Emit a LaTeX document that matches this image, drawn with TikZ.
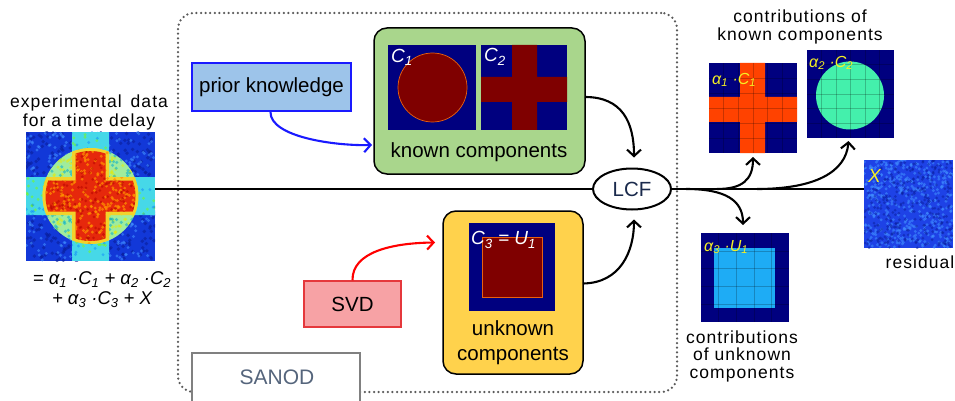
\documentclass[tikz,border=0pt]{standalone}
\usepackage{fontspec}
\setmainfont{Liberation Sans}
\usetikzlibrary{arrows.meta,calc,shapes.geometric}
\definecolor{navyc}{HTML}{00007F}
\definecolor{darkredc}{HTML}{7F0000}
\definecolor{expblue}{HTML}{1238D8}
\definecolor{cyanc}{HTML}{46D8E8}
\definecolor{circc}{HTML}{A0EC9C}
\definecolor{yelc}{HTML}{F2D22A}
\definecolor{redc}{HTML}{E6280C}
\definecolor{greenbox}{HTML}{A9D68C}
\definecolor{goldbox}{HTML}{FFD24C}
\definecolor{priorfill}{HTML}{9DC4EA}
\definecolor{priordraw}{HTML}{1A1AFF}
\definecolor{svdfill}{HTML}{F7A2A5}
\definecolor{svddraw}{HTML}{E5383C}
\definecolor{sanodc}{HTML}{55657C}
\definecolor{crossc}{HTML}{FF4200}
\definecolor{aquac}{HTML}{44F0AC}
\definecolor{lbluec}{HTML}{1EACF5}
\definecolor{resblue}{HTML}{1E42E6}
\definecolor{labyel}{HTML}{F5F025}
\definecolor{lcftext}{HTML}{1A2A4C}
\definecolor{dotgray}{HTML}{5A5A5A}
\definecolor{orangeedge}{HTML}{E86010}
\definecolor{speckdark}{HTML}{0A1E9A}
\definecolor{specklight}{HTML}{3F8CFF}

\newcommand\mynoise[8]{%
  \foreach \k in {1,...,#1}{%
    \pgfmathsetmacro\px{#2+#4*rnd}%
    \pgfmathsetmacro\py{#3+#5*rnd}%
    \fill[#6,opacity=#8] (\px,\py) circle (#7);}}

\begin{document}
\begin{tikzpicture}[x=1pt,y=-1pt,
  btxt/.style={font=\fontsize{20.5}{24.5}\selectfont, align=center, inner sep=0pt},
  ctxt/.style={font=\fontsize{17.5}{17.5}\selectfont\addfontfeatures{LetterSpace=6}, align=center, inner sep=0pt},
  img/.style={inner sep=0pt, outer sep=0pt, draw=none},
  arr/.style={line width=2.1pt, -{Straight Barb[length=6.5pt,width=14pt]}},
  gridl/.style={black, opacity=0.22, line width=0.6pt},
  ilab/.style={font=\fontsize{19}{19}\selectfont\itshape, inner sep=0pt, anchor=west, text=white},
  ylab/.style={font=\fontsize{16}{16}\selectfont\itshape, inner sep=0pt, anchor=west, text=labyel},
  mainline/.style={line width=1.8pt},
]
\pgfmathsetseed{3}
\useasboundingbox (0,0) rectangle (955,401);
\fill[white] (0,0) rectangle (955,401);

% SANOD frame
\node[img, draw=dotgray, line width=2.5pt, dash pattern=on 0pt off 4.6pt, line cap=round,
      rounded corners=16pt, minimum width=499, minimum height=379] (sanodbox) at (427.5,202.5) {};
\fill[white] (192,353) rectangle (360,401);
\draw[gray, line width=2pt] (192,401) |- (360,353) -- (360,401);
\node[font=\fontsize{21}{21}\selectfont, text=sanodc, inner sep=0pt] (sanod) at (277,377) {SANOD};

% experimental data image
\node[img, minimum width=129, minimum height=129] (exp) at (90.5,196.5) {};
\begin{scope}
  \clip (26,132) rectangle (155,261);
  \fill[expblue] (26,132) rectangle (155,261);
  \mynoise{420}{26}{132}{129}{129}{speckdark}{1.9pt}{0.6}
  \mynoise{320}{26}{132}{129}{129}{specklight}{1.6pt}{0.6}
\end{scope}
\begin{scope}
  \clip (72,132) rectangle (109,261) (26,177) rectangle (155,215);
  \fill[cyanc] (26,132) rectangle (155,261);
  \mynoise{150}{26}{132}{129}{129}{green!50!yellow}{1.6pt}{0.5}
  \mynoise{150}{26}{132}{129}{129}{blue!55!cyan}{1.6pt}{0.4}
\end{scope}
\begin{scope}
  \clip (90.5,196) circle (48pt);
  \fill[circc] (42,148) rectangle (139,244);
  \mynoise{260}{42}{148}{97}{97}{yellow!90!green}{1.7pt}{0.55}
  \mynoise{260}{42}{148}{97}{97}{cyan!80!green}{1.7pt}{0.55}
\end{scope}
\begin{scope}
  \clip (90.5,196) circle (48pt);
  \clip (72,132) rectangle (109,261) (26,177) rectangle (155,215);
  \fill[yelc] (26,132) rectangle (155,261);
  \mynoise{90}{26}{132}{129}{129}{orange}{1.6pt}{0.6}
\end{scope}
\begin{scope}
  \clip (90.5,196) circle (45pt);
  \clip (75.5,132) rectangle (105.5,261) (26,180.5) rectangle (155,211.5);
  \fill[redc] (26,132) rectangle (155,261);
  \mynoise{380}{42}{148}{97}{97}{orange!85!yellow}{1.6pt}{0.7}
  \mynoise{240}{42}{148}{97}{97}{red!70!black}{1.5pt}{0.5}
\end{scope}

\node[ctxt, font=\fontsize{17.5}{19}\selectfont\addfontfeatures{LetterSpace=6}] (exptxt) at (89,112) {experimental\hspace{3pt} data\\for a time delay};
\node[inner sep=0pt, align=center, font=\fontsize{18.5}{20}\selectfont\itshape] (eq) at (102,290)
  {= α\textsubscript{1} ·C\textsubscript{1} + α\textsubscript{2} ·C\textsubscript{2}\\
   + α\textsubscript{3} ·C\textsubscript{3} + X};

% prior knowledge
\node[btxt, draw=priordraw, fill=priorfill, line width=2pt, minimum width=159, minimum height=48] (prior) at (271.5,87) {prior knowledge};

% known components
\node[img, fill=greenbox, draw=black, line width=1.5pt, rounded corners=13pt, minimum width=211, minimum height=146] (known) at (479.5,101) {};
\node[img, fill=navyc, minimum width=88, minimum height=85] (c1) at (432,87.5) {};
\filldraw[fill=darkredc, draw=orangeedge, line width=0.7pt] (432.5,87.5) circle (34.5pt);
\node[img, fill=navyc, minimum width=86, minimum height=85] (c2) at (524,87.5) {};
\fill[darkredc] (512,45) rectangle (537,130) (481,77) rectangle (567,102);
\node[ilab] (c1lab) at (391,57) {C\textsubscript{1}};
\node[ilab] (c2lab) at (484,57) {C\textsubscript{2}};
\node[btxt] (knownlab) at (479,152) {known components};

% unknown components
\node[img, fill=goldbox, draw=black, line width=1.5pt, rounded corners=13pt, minimum width=140, minimum height=163] (unknown) at (513,292.5) {};
\node[img, fill=navyc, minimum width=86, minimum height=88] (c3) at (512,267) {};
\filldraw[fill=darkredc, draw=orangeedge, line width=0.6pt] (482,237) rectangle (542,297);
\node[ilab] (c3lab) at (471,240) {C\textsubscript{3} = U\textsubscript{1}};
\node[btxt] (unklab) at (513,342.5) {unknown\\components};

% SVD
\node[btxt, draw=svddraw, fill=svdfill, line width=1.5pt, minimum width=97, minimum height=46] (svd) at (352.5,304) {SVD};

% LCF
\node[ellipse, draw=black, line width=2pt, fill=white, minimum width=78, minimum height=41, inner sep=0pt,
      text=lcftext, font=\fontsize{20.5}{20.5}\selectfont] (lcf) at (632,189) {LCF};

% right images
\node[img, fill=navyc, minimum width=88, minimum height=90] (a1) at (753,108) {};
\fill[crossc] (740,63) rectangle (765,153) (709,97) rectangle (797,122);
\foreach \t in {1,...,5}{
  \draw[gridl] (709+\t*14.67,63) -- (709+\t*14.67,153);
  \draw[gridl] (709,63+\t*15) -- (797,63+\t*15);}
\node[ylab] (a1lab) at (712,80) {α\textsubscript{1} ·C\textsubscript{1}};

\node[img, fill=navyc, minimum width=87, minimum height=88] (a2) at (850.5,94) {};
\fill[aquac] (850,95.5) circle (34pt);
\foreach \t in {1,...,5}{
  \draw[gridl] (807+\t*14.5,50) -- (807+\t*14.5,138);
  \draw[gridl] (807,50+\t*14.67) -- (894,50+\t*14.67);}
\node[ylab] (a2lab) at (809,63) {α\textsubscript{2} ·C\textsubscript{2}};

\node[img, fill=navyc, minimum width=88, minimum height=89] (a3) at (745,277.5) {};
\fill[lbluec] (714,248) rectangle (775,308);
\foreach \t in {1,...,4}{
  \draw[gridl] (701+\t*17.6,233) -- (701+\t*17.6,322);
  \draw[gridl] (701,233+\t*17.8) -- (789,233+\t*17.8);}
\node[ylab] (a3lab) at (704,247) {α\textsubscript{3} ·U\textsubscript{1}};

\node[img, minimum width=89, minimum height=88] (res) at (908.5,204) {};
\begin{scope}
  \clip (864,160) rectangle (953,248);
  \fill[resblue] (864,160) rectangle (953,248);
  \mynoise{420}{864}{160}{89}{88}{specklight}{1.6pt}{0.6}
  \mynoise{300}{864}{160}{89}{88}{speckdark}{1.5pt}{0.5}
\end{scope}
\node[ylab, font=\fontsize{19}{19}\selectfont\itshape] (xlab) at (868,176) {X};

\node[ctxt] (contk) at (800,27) {contributions of\\known components};
\node[ctxt] (contu) at (742,356) {contributions\\of unknown\\components};
\node[ctxt] (reslab) at (920,262) {residual};

% main line
\draw[mainline] (exp.east |- lcf.west) -- (lcf.west);
\draw[mainline] (lcf.east) -- (lcf.east -| res.west);

% connectors
\draw[arr, draw=priordraw] ($(prior.south)+(-1,0)$) .. controls (270,137) and (335,146) .. ($(known.west)+(-2,44)$);
\draw[arr, draw=red] (svd.north) .. controls (352,252) and (392,243) .. ($(unknown.west)+(-8,-50)$);
\draw[arr] ($(known.east)+(0,-4)$) .. controls (622,97) and (634,122) .. ($(lcf.north)+(2,-10)$);
\draw[arr] ($(unknown.east)+(0,-9)$) .. controls (620,283) and (634,252) .. ($(lcf.south)+(2,9)$);
\coordinate (b1) at (717,189);
\coordinate (b2) at (757,189);
\coordinate (b3) at (686,189);
\draw[arr] (b1) .. controls (742,189) and (753,180) .. ($(a1.south)+(0,4)$);
\draw[arr] (b2) .. controls (815,189) and (846,172) .. ($(a2.south)+(-2,3)$);
\draw[arr] (b3) .. controls (725,189) and (743,200) .. ($(a3.north)+(-2,-8)$);
\end{tikzpicture}
\end{document}
